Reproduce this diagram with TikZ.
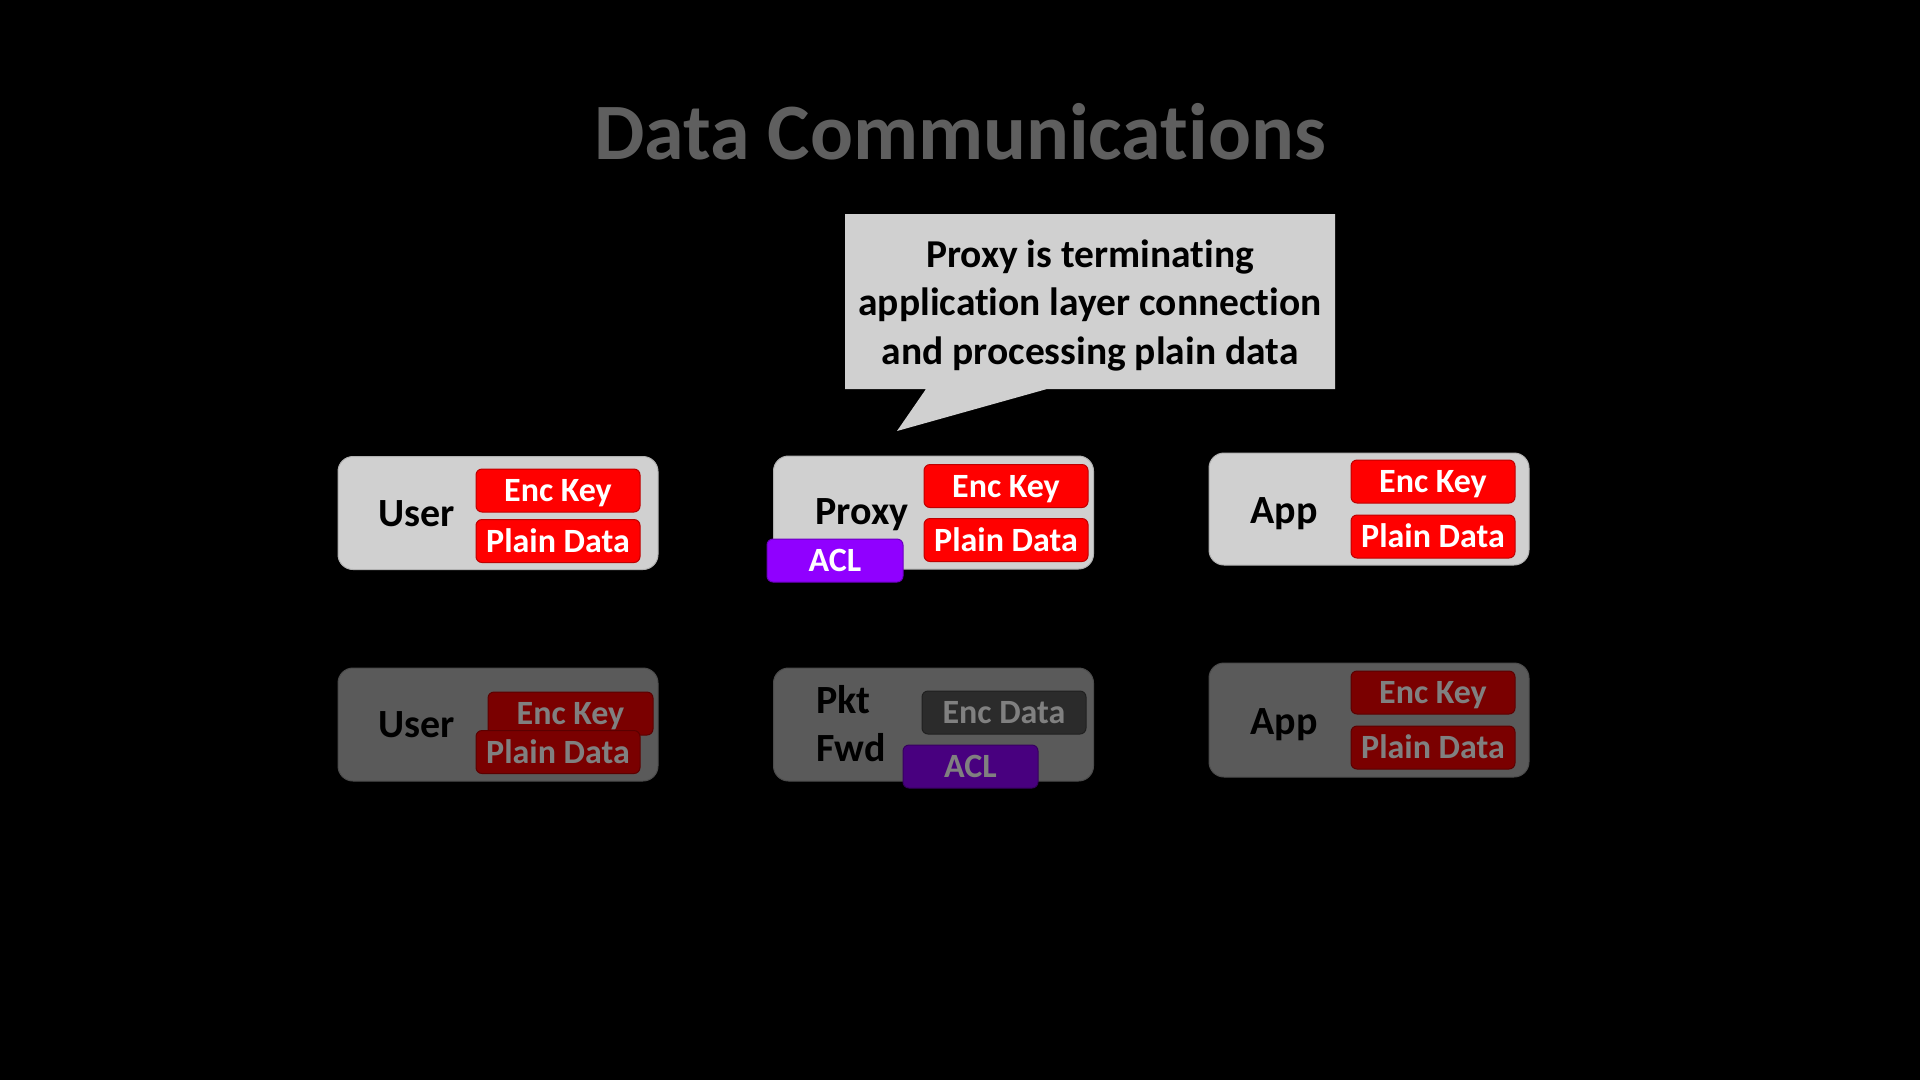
\documentclass[tikz,border=0pt]{standalone}
\usepackage{fontspec}
\setmainfont{Carlito}[Ligatures=NoCommon]
\begin{document}
\begin{tikzpicture}[x=1pt,y=-1pt,
  outer/.style={draw=#1!85!black,line width=1pt,fill=#1,rounded corners=15pt,minimum width=320pt,minimum height=113pt,inner sep=0pt},
  tag/.style={draw=#1!75!black,line width=1pt,fill=#1,rounded corners=6pt,minimum width=164pt,minimum height=43pt,inner sep=0pt,font=\fontsize{34}{36}\selectfont\bfseries,text height=22pt,text depth=0pt},
  lbl/.style={font=\fontsize{40}{42}\selectfont\bfseries,text=black,inner sep=0pt,anchor=base},
  ctext/.style={font=\fontsize{39.5}{42}\selectfont\bfseries,text=black,inner sep=0pt,anchor=base}]
\definecolor{lightbox}{HTML}{D0D0D0}
\definecolor{darkbox}{HTML}{5A5A5A}
\definecolor{redtag}{HTML}{FF0000}
\definecolor{dredtag}{HTML}{7A0000}
\definecolor{purp}{HTML}{9000FF}
\definecolor{dpurp}{HTML}{48007F}
\definecolor{encd}{HTML}{2B2B2B}
\definecolor{fadetxt}{HTML}{808080}
\definecolor{titlec}{HTML}{5F5F5F}
\fill[black] (0,0) rectangle (1920,1080);
\useasboundingbox (0,0) rectangle (1920,1080);
% title
\node[font=\fontsize{80}{82}\selectfont\bfseries,text=titlec,inner sep=0pt,anchor=base] (title) at (960,159) {Data Communications};
% callout
\fill[lightbox] (845,214) -- (1335,214) -- (1335,389) -- (1047,389) -- (897,431) -- (926,389) -- (845,389) -- cycle;
\node[ctext] (c1) at (1090,267) {Proxy is terminating};
\node[ctext] (c2) at (1090,315) {application layer connection};
\node[ctext] (c3) at (1090,364) {and processing plain data};
% top row
\node[outer=lightbox] (userT) at (498,513) {};
\node[outer=lightbox] (proxyT) at (933.5,512.5) {};
\node[outer=lightbox,minimum height=112pt] (appT) at (1369,509) {};
\node[lbl] (userTl) at (417,526) {User};
\node[lbl] (proxyTl) at (862,524) {Proxy};
\node[lbl] (appTl) at (1284,523) {App};
\node[tag=redtag,text=white] (uk) at (558,490.5) {Enc Key};
\node[tag=redtag,text=white] (ud) at (558,541) {Plain Data};
\node[tag=redtag,text=white] (pk) at (1006,486) {Enc Key};
\node[tag=redtag,text=white] (pd) at (1006,540) {Plain Data};
\node[tag=redtag,text=white] (ak) at (1433,481.5) {Enc Key};
\node[tag=redtag,text=white] (ad) at (1433,536.5) {Plain Data};
\node[tag=purp,text=white,minimum width=136pt] (pacl) at (835,560.5) {ACL};
% bottom row
\node[outer=darkbox] (userB) at (498,724.5) {};
\node[outer=darkbox] (fwdB) at (933.5,724.5) {};
\node[outer=darkbox,minimum height=114pt] (appB) at (1369,720) {};
\node[lbl] (userBl) at (417,737) {User};
\node[lbl] (appBl) at (1284,734) {App};
\node[lbl,anchor=base west] (pkt) at (816,713) {Pkt};
\node[lbl,anchor=base west] (fwd) at (816,761) {Fwd};
\node[tag=dredtag,text=fadetxt,minimum width=165pt] (ubk) at (570.5,713.5) {Enc Key};
\node[tag=dredtag,text=fadetxt] (ubd) at (558,752) {Plain Data};
\node[tag=encd,text=fadetxt] (fed) at (1004,712.5) {Enc Data};
\node[tag=dpurp,text=fadetxt,minimum width=135pt] (facl) at (970.5,766.5) {ACL};
\node[tag=dredtag,text=fadetxt] (abk) at (1433,692.5) {Enc Key};
\node[tag=dredtag,text=fadetxt] (abd) at (1433,747.5) {Plain Data};
\end{tikzpicture}
\end{document}
